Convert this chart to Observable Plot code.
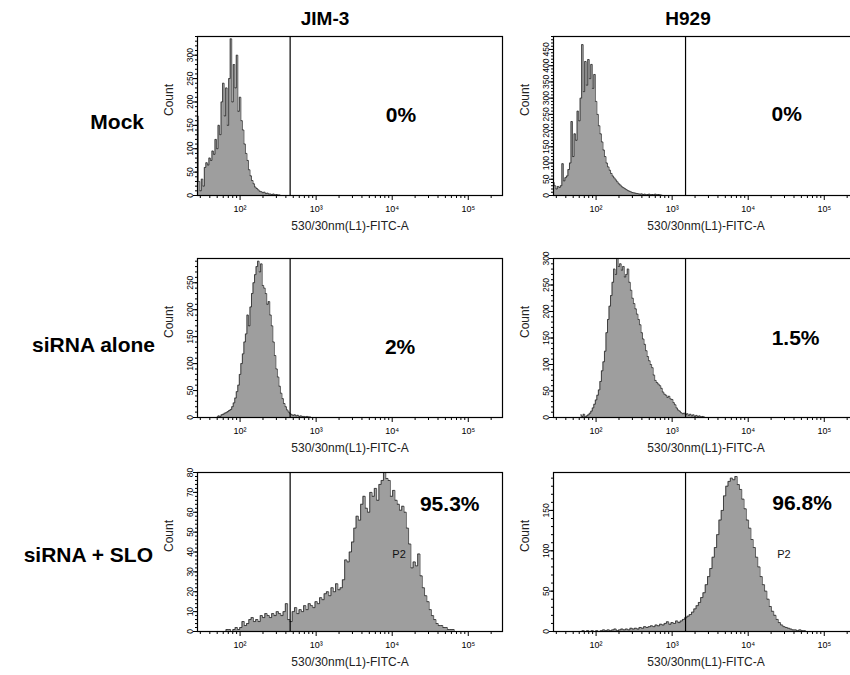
<!DOCTYPE html>
<html><head><meta charset="utf-8">
<script src="https://cdn.jsdelivr.net/npm/d3@7"></script>
<script src="https://cdn.jsdelivr.net/npm/@observablehq/plot@0.6"></script>
<style>
html,body{margin:0;padding:0;background:#fff;overflow:hidden;width:850px;height:675px}
#root{position:relative;width:850px;height:675px;font-family:"Liberation Sans",Arial,sans-serif}
.panel{position:absolute}
#overlay{position:absolute;left:0;top:0}
</style></head><body><div id="root"></div>
<script>
// ---------- data ----------
const columns = ["JIM-3", "H929"];
const rows = ["Mock", "siRNA alone", "siRNA + SLO"];
const xLabel = "530/30nm(L1)-FITC-A";
const xMajorTicks = [1e2, 1e3, 1e4, 1e5];

// counts per log10 bin (start exponent, bin width in log10 units)
const jimMockStart = 1.44, jimMockStep = 0.02;
const jimMock = [170,30,10,35,20,60,70,65,80,75,95,88,120,100,150,130,200,240,170,230,150,250,335,200,280,230,300,180,210,160,140,110,90,75,55,42,32,25,18,15,12,9,8,6,7,4,5,3,3,2,3,1,2,1,1,0];
const h929MockStart = 1.44, h929MockStep = 0.02;
const h929Mock = [40,30,20,28,25,30,98,45,55,60,80,100,228,120,190,170,260,230,300,465,320,413,340,419,360,404,330,373,290,250,215,190,165,140,120,100,88,78,68,60,54,48,42,36,32,27,24,21,18,15,13,11,9,8,7,6,5,4,5,3,4,2,3,4,2,3,2,4,2,3,2,1,0];
const jimSirnaStart = 1.70, jimSirnaStep = 0.02;
const jimSirna = [1,3,2,5,6,8,9,11,13,15,20,27,36,48,60,80,100,118,140,155,190,170,205,230,250,265,280,290,270,285,245,240,230,210,215,190,170,140,115,90,75,58,45,35,26,20,14,10,7,5,4,5,3,4,2,3,2,2,1,2,1,1,0];
const h929SirnaStart = 1.80, h929SirnaStep = 0.02;
const h929Sirna = [5,2,6,1,3,5,8,12,18,25,33,42,52,68,88,105,125,160,185,210,230,255,280,270,300,285,290,278,285,265,270,280,255,240,225,215,205,195,185,175,160,148,138,126,115,107,100,94,80,70,66,63,60,55,48,44,42,38,40,35,34,28,24,18,14,12,9,7,8,5,7,4,6,3,5,2,4,2,3,1,2,1,0];
const jimSloStart = 1.80, jimSloStep = 0.03;
const jimSlo = [0,1,1,0,1,2,1,2,5,3,4,6,7,5,6,5,8,7,9,8,7,9,8,10,9,8,10,14,6,5,10,12,9,11,10,13,11,14,13,12,15,14,17,16,19,20,18,22,20,24,21,22,26,36,35,40,45,52,58,56,64,68,62,60,70,68,72,66,74,76,80,77,76,68,71,66,64,61,63,60,52,44,32,35,33,39,28,22,18,15,11,8,6,4,3,3,2,2,1,1,1,0];
const h929SloStart = 1.80, h929SloStep = 0.03;
const h929Slo = [0,1,0,1,0,1,0,1,0,1,2,1,2,1,2,3,1,2,3,2,3,2,4,3,4,3,5,4,6,5,6,7,6,8,7,9,8,10,12,9,11,10,13,11,13,15,17,19,21,24,28,32,36,42,48,58,68,78,92,104,120,138,150,168,180,186,190,188,192,182,176,164,152,138,128,114,104,92,80,68,58,50,40,31,25,20,15,11,8,6,5,4,3,2,2,1,2,1,1,0];

// gates (FITC value) and y ranges / tick labels
const gates = [455, 1500];
const yMax = [340, 490, 295, 300, 80, 197];
const yTicksMock1 = [0,50,100,150,200,250,300];
const yTicksMock2 = [0,50,100,150,200,250,300,350,400,450];
const yTicksSirna1 = [0,50,100,150,200,250];
const yTicksSirna2 = [0,50,100,150,200,250,300];
const yTicksSlo1 = [0,10,20,30,40,50,60,70,80];
const yTicksSlo2 = [0,50,100,150];
const yMinorStep = [10, 10, 10, 10, 2, 10];

// gate percentages and label anchors (FITC value, count)
const percents = ["0%", "0%", "2%", "1.5%", "95.3%", "96.8%"];
const percentX = [13000, 32000, 12700, 42000, 57000, 51000];
const percentY = [171, 250, 130, 150, 64, 159];
const p2Label = [null, null, null, null, "P2", "P2"];
const p2X = [null, null, null, null, 12300, 29500];
const p2Y = [null, null, null, null, 39, 96];

// ---------- drawing ----------
const FONT = '"Liberation Sans", Arial, sans-serif';
const root = document.getElementById("root");
const sup = {2: "\u00b2", 3: "\u00b3", 4: "\u2074", 5: "\u2075"};
const xDomain = [Math.pow(10, 1.44), Math.pow(10, 5.45)];
const xMinor = [];
for (let e = 1; e <= 5; e++) for (let m = 2; m <= 9; m++) {
  const v = m * Math.pow(10, e);
  if (v > xDomain[0] && v < xDomain[1]) xMinor.push(v);
}

const series = [
  [jimMock, jimMockStart, jimMockStep, yTicksMock1],
  [h929Mock, h929MockStart, h929MockStep, yTicksMock2],
  [jimSirna, jimSirnaStart, jimSirnaStep, yTicksSirna1],
  [h929Sirna, h929SirnaStart, h929SirnaStep, yTicksSirna2],
  [jimSlo, jimSloStart, jimSloStep, yTicksSlo1],
  [h929Slo, h929SloStart, h929SloStep, yTicksSlo2]
];

const colLeft = [160, 516];
const rowTop = [30, 252, 466];
const ML = 37, MT = 6, FH = 159, MB = 44, FW = 305;

series.forEach(([counts, start, step, yTicks], k) => {
  const col = k % 2, row = Math.floor(k / 2);
  const data = counts.map((c, i) => ({x: Math.pow(10, start + i * step), y: c}));
  const yMinor = d3.range(0, yMax[k] + 0.001, yMinorStep[k]);
  const marks = [
    Plot.areaY(data, {x: "x", y: "y", curve: "step", fill: "#9e9e9e", clip: true}),
    Plot.lineY(data, {x: "x", y: "y", curve: "step", stroke: "#222", strokeWidth: 0.75, clip: true}),
    Plot.ruleX([gates[col]], {stroke: "#000", strokeWidth: 1.2}),
    Plot.frame({stroke: "#000", strokeWidth: 1.2}),
    Plot.axisX({ticks: xMajorTicks, tickSize: 5, tickPadding: 5, fontSize: 9, label: null,
      tickFormat: d => "10" + sup[Math.round(Math.log10(d))]}),
    Plot.axisX({ticks: xMinor, tickSize: 3, tickFormat: () => "", label: null}),
    Plot.axisY({ticks: yTicks, tickSize: 4, tickPadding: 1, tickRotate: -90, fontSize: 8.5, label: null}),
    Plot.axisY({ticks: yMinor, tickSize: 2, tickFormat: () => "", label: null}),
    Plot.text([xLabel], {frameAnchor: "bottom", dy: 34, fontSize: 12, text: d => d, fill: "#222"}),
    Plot.text(["Count"], {frameAnchor: "left", dx: -28, rotate: -90, fontSize: 12, text: d => d, fill: "#222"}),
    Plot.text([percents[k]], {x: () => percentX[k], y: () => percentY[k], text: d => d,
      fontSize: 21, fontWeight: "bold", fill: "#000"})
  ];
  if (p2Label[k]) marks.push(Plot.text([p2Label[k]], {x: () => p2X[k], y: () => p2Y[k], text: d => d, fontSize: 11, fill: "#111"}));
  const chart = Plot.plot({
    width: ML + FW + 2, height: MT + FH + MB,
    marginLeft: ML, marginRight: 2, marginTop: MT, marginBottom: MB,
    style: {fontFamily: FONT, background: "transparent", overflow: "visible", color: "#000"},
    x: {type: "log", domain: xDomain},
    y: {domain: [0, yMax[k]]},
    marks
  });
  chart.classList.add("panel");
  chart.style.left = colLeft[col] + "px";
  chart.style.top = rowTop[row] + "px";
  root.appendChild(chart);
});

// titles and row labels
const overlay = d3.select(root).append("svg").attr("id", "overlay")
  .attr("width", 850).attr("height", 675).style("font-family", FONT);
const colCenter = [325, 688];
columns.forEach((c, i) => overlay.append("text").attr("x", colCenter[i]).attr("y", 18)
  .attr("dy", "0.35em").attr("text-anchor", "middle").attr("font-size", 19).attr("font-weight", "bold").text(c));
const rowRight = [144, 155, 153];
const rowCenter = [122, 345, 555];
rows.forEach((r, i) => overlay.append("text").attr("x", rowRight[i]).attr("y", rowCenter[i])
  .attr("dy", "0.35em").attr("text-anchor", "end").attr("font-size", 21).attr("font-weight", "bold").text(r));
</script></body></html>
